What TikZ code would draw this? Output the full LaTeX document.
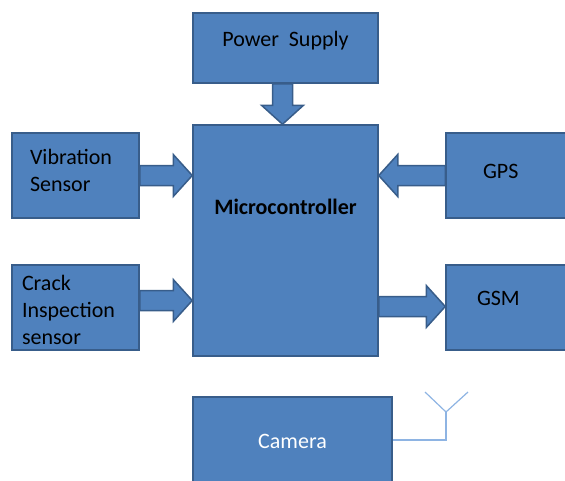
\documentclass[tikz,border=0pt]{standalone}
\usepackage{fontspec}
\setmainfont{Carlito}
\usetikzlibrary{calc}
\definecolor{boxblue}{HTML}{4F81BD}
\definecolor{boxedge}{HTML}{385D8A}
\definecolor{antblue}{HTML}{8EB4E3}

% fat block arrow from #1 to #2
\newcommand{\blockarrow}[2]{%
  \coordinate (ba-s) at (#1);
  \coordinate (ba-t) at (#2);
  \coordinate (ba-h) at ($(ba-t)!19pt!(ba-s)$);
  \draw[blockarr] ($(ba-s)!10pt!90:(ba-t)$) -- ($(ba-h)!10pt!-90:(ba-s)$)
    -- ($(ba-h)!21pt!-90:(ba-s)$) -- (ba-t) -- ($(ba-h)!21pt!90:(ba-s)$)
    -- ($(ba-h)!10pt!90:(ba-s)$) -- ($(ba-s)!10pt!-90:(ba-t)$) -- cycle;
}

\begin{document}
\begin{tikzpicture}[x=1pt,y=-1pt,
    blockbox/.style={draw=boxedge, line width=1.5pt, fill=boxblue, inner sep=0pt,
      font=\fontsize{22}{27}\selectfont},
    lift/.style={text height=14pt, text depth=#1},
    blockarr/.style={draw=boxedge, line width=1.5pt, fill=boxblue, line join=miter},
    antline/.style={draw=antblue, line width=1.2pt}]
    \useasboundingbox (0,0) rectangle (565,480);
    \clip (0,0) rectangle (565,480);
    % Blocks
    \node[blockbox, lift=18pt, minimum width=185pt, minimum height=70pt] (power) at (285.5,48) {Power\ \ Supply};
    \node[blockbox, lift=66pt, minimum width=185pt, minimum height=231pt,
      font=\fontsize{22}{27}\selectfont\bfseries] (micro) at (285.5,240.5) {Microcontroller};
    \node[blockbox, lift=36pt, minimum width=127pt, minimum height=85pt, text width=91pt, inner xsep=18pt,
      align=left] (vib) at (75.5,175.5) {Vibration\\Sensor};
    \node[blockbox, lift=49pt, minimum width=127pt, minimum height=85pt, text width=107pt, inner xsep=10pt,
      align=left] (crack) at (75.5,307.5) {Crack\\Inspection\\sensor};
    \node[blockbox, lift=8pt, minimum width=130pt, minimum height=85pt, text width=56pt, inner xsep=37pt,
      align=left] (gps) at (511,175.5) {GPS};
    \node[blockbox, lift=18pt, minimum width=130pt, minimum height=85pt, text width=68pt, inner xsep=31pt,
      align=left] (gsm) at (511,307.5) {GSM};
    \node[blockbox, lift=5pt, text=white, minimum width=199pt, minimum height=93pt] (camera) at (292.5,443.5) {Camera};
    % Block arrows
    \coordinate (ps) at ([xshift=-3pt]power.south);
    \blockarrow{ps}{ps |- micro.north}
    \blockarrow{vib.east}{vib.east -| micro.west}
    \coordinate (cr) at ([yshift=7pt]crack.east);
    \blockarrow{cr}{cr -| micro.west}
    \blockarrow{gps.west}{gps.west -| micro.east}
    \coordinate (gm) at ([yshift=1pt]gsm.west);
    \blockarrow{micro.east |- gm}{gm}
    % Antenna
    \coordinate (feed) at ([yshift=3.5pt]camera.east);
    \coordinate (mast) at (446,412);
    \coordinate (tipl) at (425,392);
    \coordinate (tipr) at (468,392);
    \draw[antline] (feed) -| (mast);
    \draw[antline] (tipl) -- (mast) -- (tipr);
\end{tikzpicture}
\end{document}
